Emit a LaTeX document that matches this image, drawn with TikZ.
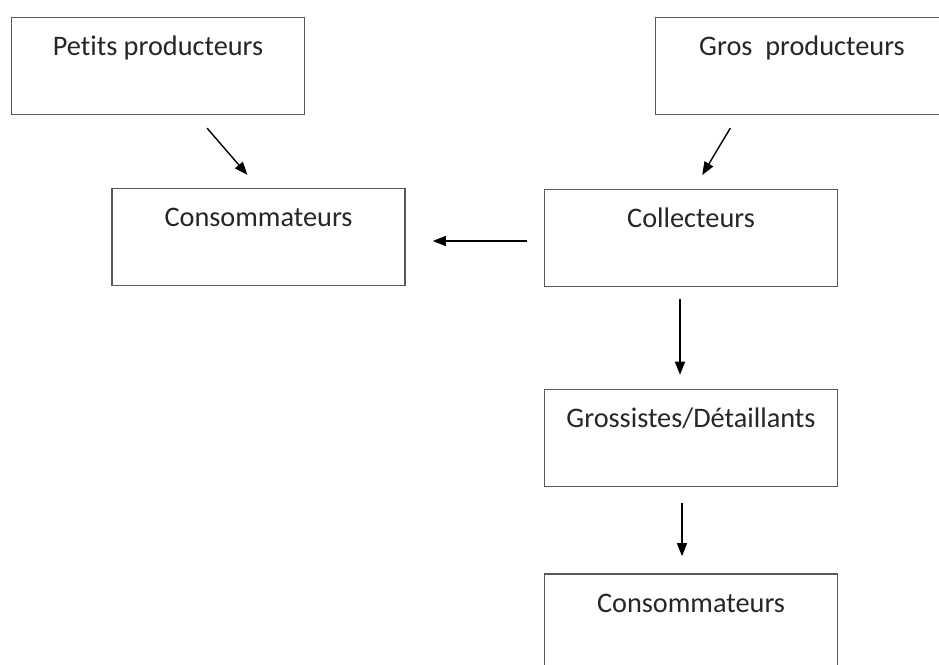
\documentclass[tikz,border=0pt]{standalone}
\usepackage{fontspec}
\setmainfont{Carlito}[Ligatures=NoCommon]
\usetikzlibrary{arrows.meta, positioning, calc}

\begin{document}
\begin{tikzpicture}[
    x=1pt, y=-1pt,
    acteur/.style={draw=black!65, rectangle, minimum width=293pt, minimum height=97pt, line width=1.6pt,
        inner sep=0pt, text height=38pt, text depth=59pt, font=\fontsize{28.3}{33}\selectfont, text=black!85},
    flux/.style={-{Triangle[length=13pt, width=10pt]}, line width=1.4pt}
]

% --- Frame ---
\useasboundingbox (0,0) rectangle (939,664);
\clip (0,0) rectangle (939,664);

% --- Acteurs ---
\node[acteur] (petits)  at (158, 66)    {Petits producteurs};
\node[acteur] (gros)    at (802, 66)    {Gros\ \ producteurs};
\node[acteur] (consoA)  at (258.5, 237) {Consommateurs};
\node[acteur] (collect) at (691, 238)   {Collecteurs};
\node[acteur] (gross)   at (691, 438)   {Grossistes/Détaillants};
\node[acteur] (consoB)  at (691, 622.5) {Consommateurs};

% --- Flux ---
\draw[flux, shorten <=17pt, shorten >=17pt] ([xshift=38pt]petits.south) -- (consoA.north);
\draw[flux, shorten <=15pt, shorten >=16pt] ([xshift=-64pt]gros.south) -- ([xshift=3pt]collect.north);
\draw[flux, shorten <=17pt, shorten >=27pt] ([yshift=-3pt]collect.west) -- ([yshift=-3pt]collect.west -| consoA.east);
\draw[flux, shorten <=12pt, shorten >=14pt] ([xshift=-11pt]collect.south) -- ([xshift=-11pt]gross.north);
\draw[flux, shorten <=16pt, shorten >=17pt] ([xshift=-9pt]gross.south) -- ([xshift=-9pt]consoB.north);

\end{tikzpicture}
\end{document}
